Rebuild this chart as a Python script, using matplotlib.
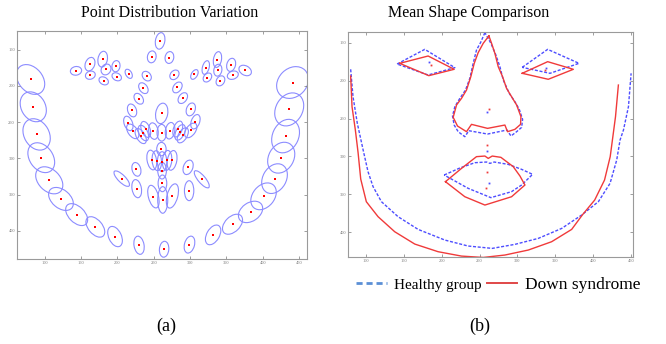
import matplotlib.pyplot as plt
from matplotlib.patches import Ellipse
from matplotlib.lines import Line2D
import numpy as np

plt.rcParams['font.family'] = ['Liberation Serif', 'DejaVu Serif']

# ---- (a) point distribution: landmark means and spread ellipses ----
# ellipse axes are in pixels of the shape image, tilt is the angle seen on screen
pdm_x = [80.7, 84.4, 89.0, 95.4, 106.4, 122.5, 144.1, 169.8, 196.9, 229.9, 264.4,
         299.3, 331.8, 358.5, 383.3, 401.2, 416.3, 425.5, 431.5, 436.5, 441.1,
         258.9, 247.4, 271.7,
         143.2, 162.4, 179.9, 198.2, 162.9, 184.5, 181.3, 199.2, 215.7, 240.5, 235.9, 229.5,
         278.6, 282.7, 290.1, 306.1, 321.7, 324.0, 337.8, 338.3, 341.9, 356.6, 358.9, 375.9,
         220.3, 301.1, 215.2, 307.5, 261.1,
         221.2, 232.2, 235.9, 239.1, 249.7, 261.1, 272.6, 283.2, 286.4, 290.1, 301.1,
         260.7, 247.4, 254.3, 261.6, 268.5, 275.4, 261.6, 226.3, 297.4, 206.1, 316.2,
         226.7, 298.8, 262.1, 249.7, 262.5, 275.8]
pdm_y = [191.3, 229.0, 267.1, 299.2, 330.4, 356.1, 377.7, 394.7, 408.0, 420.0, 425.5,
         419.1, 405.7, 391.0, 374.0, 352.5, 328.1, 299.2, 269.4, 232.6, 195.5,
         138.1, 160.1, 161.0,
         179.4, 170.2, 163.3, 173.0, 185.4, 177.5, 193.2, 187.6, 183.5, 186.7, 203.3, 217.9,
         184.9, 202.3, 217.0, 184.4, 174.8, 188.6, 163.8, 178.5, 193.2, 171.1, 185.4, 178.9,
         234.0, 232.6, 251.9, 249.6, 238.1,
         262.9, 269.4, 265.2, 260.2, 262.5, 264.8, 262.0, 259.7, 264.3, 268.4, 261.6,
         287.3, 302.4, 303.3, 304.7, 302.9, 302.9, 317.1, 315.3, 312.5, 328.1, 329.0,
         341.9, 344.7, 334.6, 352.9, 357.5, 352.0]
pdm_major = [45.9, 43.6, 45.9, 45.0, 43.6, 39.0, 36.7, 33.1, 29.8, 25.3, 22.0,
             23.9, 29.8, 33.1, 36.7, 41.3, 43.6, 45.0, 48.2, 48.2, 48.2,
             23.0, 16.5, 16.5,
             15.6, 19.3, 22.0, 15.6, 13.8, 15.6, 13.8, 13.8, 13.8, 14.7, 16.5, 16.5,
             14.7, 16.5, 16.5, 14.7, 19.3, 13.8, 22.0, 16.5, 14.7, 18.4, 15.6, 18.4,
             18.4, 18.4, 20.7, 20.7, 28.5,
             23.0, 23.0, 23.0, 23.0, 23.0, 23.0, 23.0, 23.0, 23.0, 23.0, 23.0,
             18.4, 27.5, 27.5, 27.5, 27.5, 27.5, 23.0, 19.3, 20.7, 28.5, 29.8,
             25.3, 27.5, 23.0, 32.1, 36.7, 34.4]
pdm_minor = [33.1, 33.1, 34.4, 32.1, 29.8, 25.3, 22.0, 19.3, 17.4, 13.8, 12.9,
             13.8, 17.4, 20.7, 25.3, 29.8, 32.1, 34.4, 35.8, 36.7, 39.0,
             12.9, 11.9, 11.9,
             11.9, 12.9, 12.9, 11.0, 11.0, 12.9, 10.1, 10.1, 8.3, 11.0, 11.0, 11.0,
             11.0, 11.0, 11.0, 8.3, 9.2, 10.1, 11.0, 11.0, 11.0, 11.9, 11.0, 12.9,
             11.9, 11.9, 11.5, 11.5, 16.5,
             12.9, 11.9, 11.9, 11.9, 12.9, 12.9, 12.9, 11.9, 11.9, 11.9, 12.9,
             12.9, 12.9, 12.9, 12.9, 12.9, 12.9, 11.9, 11.9, 12.9, 10.1, 10.1,
             12.9, 12.9, 11.9, 13.8, 13.8, 14.7]
pdm_tilt = [-50, -60, -60, -55, -45, -40, -45, -50, -65, -80, 85,
            75, 60, 45, 35, 50, 60, 60, 65, 60, 45,
            80, 80, 80,
            10, 70, 80, 80, 20, 60, -30, -30, -60, -50, -55, -55,
            50, 55, 55, 60, 75, 50, 80, 80, 60, 75, 20, -30,
            -70, 70, -70, 70, 80,
            -55, -60, -65, -70, -80, 90, 80, 70, 65, 60, 55,
            90, -80, -85, 90, 85, 80, 90, -75, 70, -45, -50,
            -80, 90, 90, -75, 90, 75]

# ---- (b) mean shapes ----
healthy_jaw_x = [79.7, 82.8, 88.5, 96.0, 102.6, 109.3, 120.3, 142.3, 168.8, 204.1, 234.9, 266.7,
                 296.6, 327.5, 358.4, 384.8, 406.9, 422.3, 431.1, 435.5, 440.0, 446.6, 450.1]
healthy_jaw_y = [184.8, 221.0, 256.3, 290.7, 320.1, 340.0, 359.8, 379.7, 396.5, 410.6, 418.5, 421.6,
                 416.3, 408.4, 395.2, 377.5, 359.8, 335.6, 304.7, 278.3, 265.1, 234.2, 190.1]
down_jaw_x = [79.7, 81.5, 85.9, 89.5, 93.0, 100.4, 115.9, 137.9, 164.4, 195.2, 226.1, 254.8,
              283.4, 314.3, 345.1, 371.6, 386.0, 402.0, 415.0, 422.5, 426.0, 429.5, 433.3]
down_jaw_y = [193.7, 234.2, 265.1, 295.0, 330.0, 359.9, 379.7, 399.6, 415.9, 426.0, 431.8, 433.6,
              430.4, 423.8, 412.8, 396.5, 377.0, 357.7, 331.2, 300.3, 273.9, 247.4, 205.6]

healthy_leye_x = [141.0, 177.6, 217.3, 182.0, 141.0]
healthy_leye_y = [177.8, 158.4, 182.6, 192.3, 177.8]
down_leye_x = [144.5, 182.0, 216.4, 182.9, 144.5]
down_leye_y = [176.9, 167.2, 184.8, 193.2, 176.9]
healthy_reye_x = [306.3, 339.9, 381.3, 343.0, 306.3]
healthy_reye_y = [182.2, 158.4, 176.9, 190.1, 182.2]
down_reye_x = [306.3, 339.9, 373.8, 340.7, 306.3]
down_reye_y = [190.1, 174.7, 184.8, 198.0, 190.1]

healthy_nose_x = [257.0, 251.2, 245.9, 241.5, 237.1, 231.4, 223.9, 217.3, 214.2, 216.4, 221.7, 230.5,
                  235.8, 260.5, 286.1, 291.4, 298.9, 305.5, 306.8, 302.4, 296.6, 289.2, 281.2,
                  276.8, 271.5, 264.9, 257.0]
healthy_nose_y = [136.3, 149.6, 159.3, 176.9, 196.7, 212.2, 223.2, 234.2, 246.6, 258.5, 267.3, 273.9,
                  266.0, 270.4, 265.1, 273.0, 267.3, 261.6, 251.0, 237.7, 227.6, 216.6, 198.9,
                  181.3, 165.9, 150.4, 136.3]
down_nose_x = [262.3, 254.8, 248.1, 242.9, 238.4, 232.7, 226.1, 219.5, 215.1, 220.8, 232.7, 239.3,
               260.5, 283.4, 286.9, 296.6, 304.1, 304.6, 298.9, 292.2, 285.6, 280.3, 274.6,
               270.2, 265.8, 262.3]
down_nose_y = [140.7, 150.4, 162.8, 176.9, 194.5, 212.2, 223.2, 232.0, 248.3, 259.8, 267.3, 257.6,
               262.9, 258.5, 267.3, 264.2, 257.6, 247.4, 232.0, 221.0, 210.0, 194.5, 181.3,
               163.7, 150.4, 140.7]

healthy_mouth_x = [203.2, 223.9, 243.7, 259.2, 263.6, 269.3, 287.8, 305.5, 320.0, 305.5, 292.2,
                   264.9, 234.9, 203.2]
healthy_mouth_y = [324.6, 315.3, 308.3, 307.4, 309.2, 307.4, 310.5, 317.1, 323.7, 337.8, 346.6,
                   354.5, 342.2, 324.6]
down_mouth_x = [204.9, 226.1, 245.9, 257.0, 261.4, 266.7, 278.1, 294.4, 303.3, 309.9, 292.2,
                257.0, 230.5, 204.9]
down_mouth_y = [333.4, 315.8, 300.3, 299.5, 302.6, 299.5, 301.2, 313.5, 325.9, 337.8, 353.3,
                364.3, 353.3, 333.4]

healthy_pts_x = [182.9, 338.0, 259.6, 259.6, 262.3]
healthy_pts_y = [174.7, 183.0, 241.3, 293.3, 335.4]
down_pts_x = [185.5, 336.5, 262.3, 259.6, 259.6, 257.8]
down_pts_y = [178.7, 185.7, 236.9, 284.5, 320.9, 342.0]

BLUE = '#4d4dff'
RED = '#f03a3a'

fig = plt.figure(figsize=(6.66, 3.44), dpi=100)
ax1 = fig.add_axes([0.0255, 0.247, 0.4355, 0.6638])
ax2 = fig.add_axes([0.523, 0.2529, 0.4279, 0.654])

# left panel
for x, y, a, b, t in zip(pdm_x, pdm_y, pdm_major, pdm_minor, pdm_tilt):
    # y axis is inverted, so a screen tilt is the negative data angle
    ax1.add_patch(Ellipse((x, y), a, b, angle=-t, fill=False,
                          edgecolor='#8c8cff', linewidth=0.8))
ax1.plot(pdm_x, pdm_y, 's', color='red', markersize=1.7, markeredgewidth=0)
ax1.set_xlim(62, 461)
ax1.set_ylim(439, 124)

# right panel
dash = dict(color=BLUE, linestyle=(0, (2.2, 1.2)), linewidth=1.0)
solid = dict(color=RED, linewidth=1.0)
ax2.plot(healthy_jaw_x, healthy_jaw_y, **dash)
ax2.plot(down_jaw_x, down_jaw_y, **solid)
ax2.plot(healthy_leye_x, healthy_leye_y, **dash)
ax2.plot(down_leye_x, down_leye_y, **solid)
ax2.plot(healthy_reye_x, healthy_reye_y, **dash)
ax2.plot(down_reye_x, down_reye_y, **solid)
ax2.plot(healthy_nose_x, healthy_nose_y, **dash)
ax2.plot(down_nose_x, down_nose_y, **solid)
ax2.plot(healthy_mouth_x, healthy_mouth_y, **dash)
ax2.plot(down_mouth_x, down_mouth_y, **solid)
ax2.plot(healthy_pts_x, healthy_pts_y, 's', color=BLUE, markersize=1.3, markeredgewidth=0)
ax2.plot(down_pts_x, down_pts_y, 's', color=RED, markersize=1.3, markeredgewidth=0)
ax2.set_xlim(76.6, 453)
ax2.set_ylim(433, 135.5)

for ax in (ax1, ax2):
    ax.set_xticks(np.arange(100, 451, 50))
    ax.set_yticks(np.arange(150, 401, 50))
    ax.tick_params(direction='in', length=2, width=0.5, labelsize=3.2, colors='#777777',
                   top=True, right=True, pad=1.5)
    for s in ax.spines.values():
        s.set_color('#9a9a9a')
        s.set_linewidth(0.8)

fig.text(0.254, 0.962, 'Point Distribution Variation', ha='center', va='center', fontsize=11.5)
fig.text(0.703, 0.962, 'Mean Shape Comparison', ha='center', va='center', fontsize=11.5)

handles = [Line2D([], [], color='#5b8fd6', linestyle=(0, (2.2, 1.4)), linewidth=2.0),
           Line2D([], [], color='#e04848', linewidth=1.4)]
leg = fig.legend(handles, ['Healthy group', 'Down syndrome'], loc='center',
                 bbox_to_anchor=(0.748, 0.172), ncol=2, frameon=False, fontsize=11,
                 handlelength=2.0, handletextpad=0.5, columnspacing=0.3)
leg.get_texts()[1].set_fontsize(12.5)

fig.text(0.249, 0.05, '(a)', ha='center', va='center', fontsize=13)
fig.text(0.721, 0.05, '(b)', ha='center', va='center', fontsize=13)

fig.savefig('out.png', dpi=100)
